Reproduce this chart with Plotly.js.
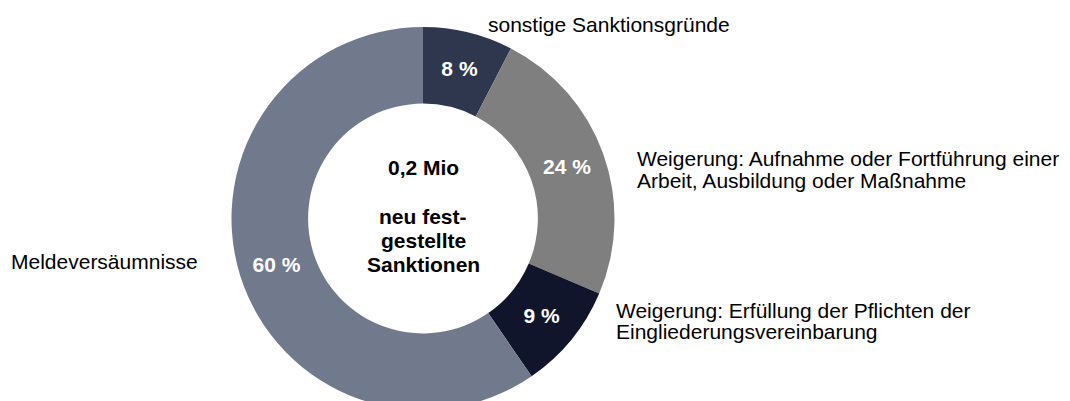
<!DOCTYPE html>
<html>
<head>
<meta charset="utf-8">
<script src="https://cdn.plot.ly/plotly-3.0.1.min.js"></script>
<style>
html, body { margin: 0; padding: 0; overflow: hidden; background: #ffffff; }
#chart { width: 1070px; height: 410px; }
</style>
</head>
<body>
<div id="chart"></div>
<script>
// ---- data ----
var categories = [
  'sonstige Sanktionsgründe',
  'Weigerung: Aufnahme oder Fortführung einer Arbeit, Ausbildung oder Maßnahme',
  'Weigerung: Erfüllung der Pflichten der Eingliederungsvereinbarung',
  'Meldeversäumnisse'
];
var shares = [7.6, 23.8, 9.0, 59.6];
var shareLabels = ['8 %', '24 %', '9 %', '60 %'];
var sliceColors = ['#2F374F', '#7F7F7F', '#10152B', '#717A8D'];

// outside label lines per category
var labelLines = [
  ['sonstige Sanktionsgründe'],
  ['Weigerung: Aufnahme oder Fortführung einer', 'Arbeit, Ausbildung oder Maßnahme'],
  ['Weigerung: Erfüllung der Pflichten der', 'Eingliederungsvereinbarung'],
  ['Meldeversäumnisse']
];
var centerLines = ['0,2 Mio', 'neu fest-', 'gestellte', 'Sanktionen'];

// ---- layout helpers (pixel -> paper) ----
var W = 1070, H = 410, MT = 27;
function px(x) { return x / W; }
function py(y) { return (H - y) / (H - MT); }

// label anchor positions (left x, first line middle y, line step)
var labelPos = [
  {x: 487, y: 24, step: 21},
  {x: 636, y: 159, step: 21},
  {x: 615, y: 310, step: 21},
  {x: 10, y: 261, step: 21}
];
var centerPos = {x: 423, ys: [167, 216, 240, 264]};

var annotations = [];
labelLines.forEach(function (lines, i) {
  lines.forEach(function (t, j) {
    annotations.push({
      xref: 'paper', yref: 'paper',
      x: px(labelPos[i].x), y: py(labelPos[i].y + j * labelPos[i].step),
      xanchor: 'left', yanchor: 'middle',
      text: t, showarrow: false, borderpad: 0,
      font: {family: 'Liberation Sans, Arial, sans-serif', size: 21, color: '#000000'}
    });
  });
});
centerLines.forEach(function (t, j) {
  annotations.push({
    xref: 'paper', yref: 'paper',
    x: px(centerPos.x), y: py(centerPos.ys[j]),
    xanchor: 'center', yanchor: 'middle',
    text: '<b>' + t + '</b>', showarrow: false, borderpad: 0,
    font: {family: 'Liberation Sans, Arial, sans-serif', size: 21, color: '#000000'}
  });
});

var trace = {
  type: 'pie',
  labels: categories,
  values: shares,
  text: shareLabels,
  textinfo: 'text',
  textposition: 'inside',
  insidetextorientation: 'horizontal',
  insidetextfont: {family: 'Liberation Sans, Arial, sans-serif', size: 21, color: '#ffffff', weight: 'bold'},
  hole: 0.6,
  sort: false,
  direction: 'clockwise',
  rotation: 0,
  marker: {colors: sliceColors, line: {width: 0}},
  domain: {x: [px(423) - 0.2, px(423) + 0.2], y: [0, 1]},
  hoverinfo: 'none'
};

var layout = {
  width: W, height: H,
  margin: {l: 0, r: 0, t: MT, b: 0, pad: 0},
  showlegend: false,
  paper_bgcolor: '#ffffff',
  plot_bgcolor: '#ffffff',
  annotations: annotations
};

Plotly.newPlot('chart', [trace], layout, {staticPlot: true, displayModeBar: false});
</script>
</body>
</html>
